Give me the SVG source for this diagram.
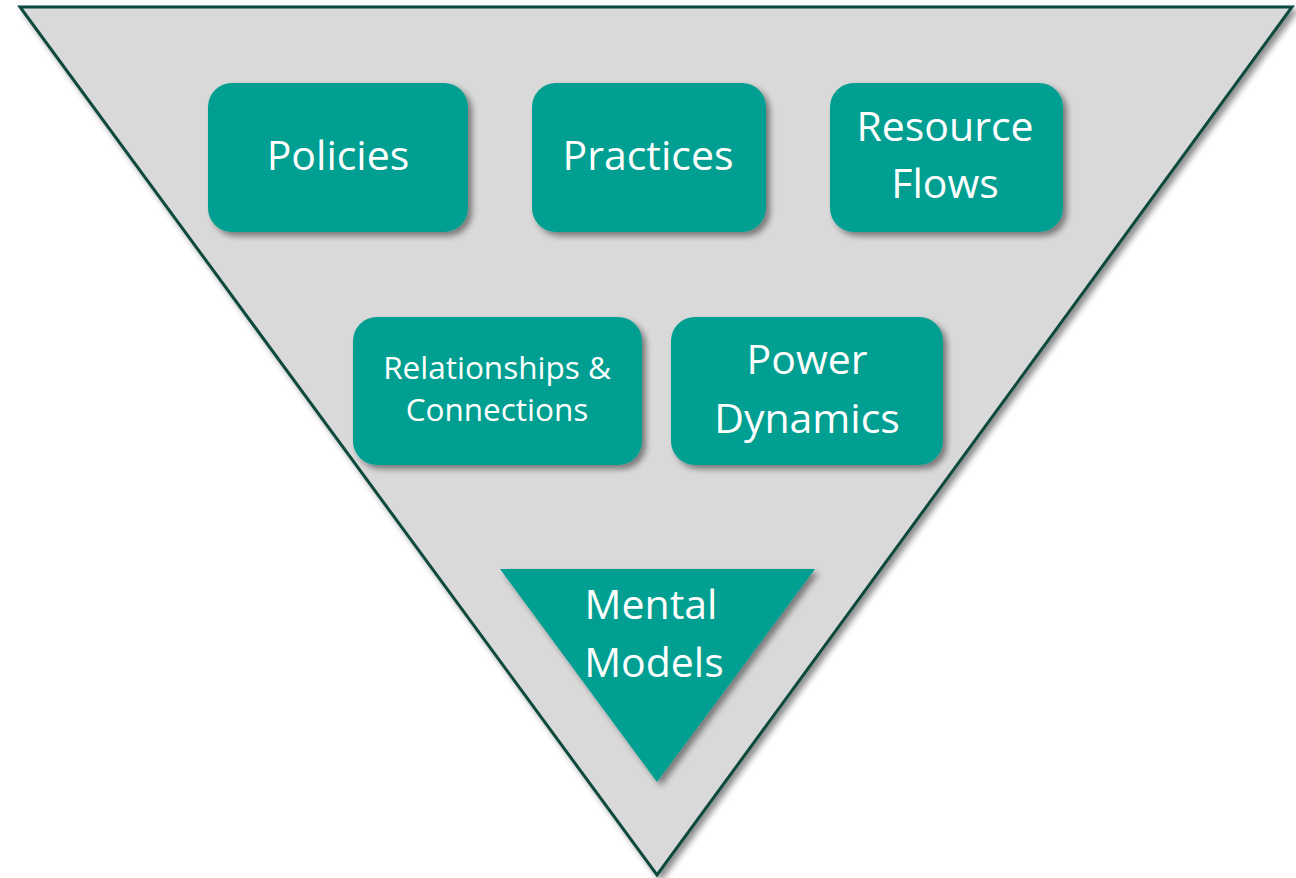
<svg xmlns="http://www.w3.org/2000/svg" width="1296" height="878" viewBox="0 0 1296 878">
<defs>
<filter id="sh" x="-10%" y="-10%" width="130%" height="130%">
<feGaussianBlur in="SourceAlpha" stdDeviation="3"/>
<feOffset dx="4" dy="4" result="b"/>
<feComponentTransfer><feFuncA type="linear" slope="0.45"/></feComponentTransfer>
<feMerge><feMergeNode/><feMergeNode in="SourceGraphic"/></feMerge>
</filter>
<style>
.box{fill:#009f91;filter:url(#sh);}
.t{fill:#ffffff;font-family:"Open Sans","Noto Sans",sans-serif;text-anchor:middle;}
</style>
</defs>
<rect width="1296" height="878" fill="#ffffff"/>
<g id="frame">
<polygon points="20,7 1292,7 657,875" fill="#d9d9d9" stroke="#0b4a3e" stroke-width="3" stroke-linejoin="miter" filter="url(#sh)"/>
</g>
<g id="policies">
<rect class="box" x="208" y="83" width="260" height="149" rx="24"/>
<text class="t" x="338" y="170" font-size="41">Policies</text>
</g>
<g id="practices">
<rect class="box" x="532" y="83" width="234" height="149" rx="24"/>
<text class="t" x="648" y="170" font-size="41">Practices</text>
</g>
<g id="resource-flows">
<rect class="box" x="830" y="83" width="233" height="149" rx="24"/>
<text class="t" x="945" y="141" font-size="41">Resource</text>
<text class="t" x="945" y="198" font-size="41">Flows</text>
</g>
<g id="relationships">
<rect class="box" x="353" y="317" width="289" height="148" rx="24"/>
<text class="t" x="497" y="379" font-size="31.5">Relationships &amp;</text>
<text class="t" x="497" y="421" font-size="31.5">Connections</text>
</g>
<g id="power-dynamics">
<rect class="box" x="671" y="317" width="272" height="148" rx="24"/>
<text class="t" x="807" y="374" font-size="41">Power</text>
<text class="t" x="807" y="433" font-size="41">Dynamics</text>
</g>
<g id="mental-models">
<polygon class="box" points="500,569 815,569 657,782"/>
<text class="t" x="651" y="619" font-size="41">Mental</text>
<text class="t" x="654" y="677" font-size="41">Models</text>
</g>
<g id="connectors"/>
</svg>
